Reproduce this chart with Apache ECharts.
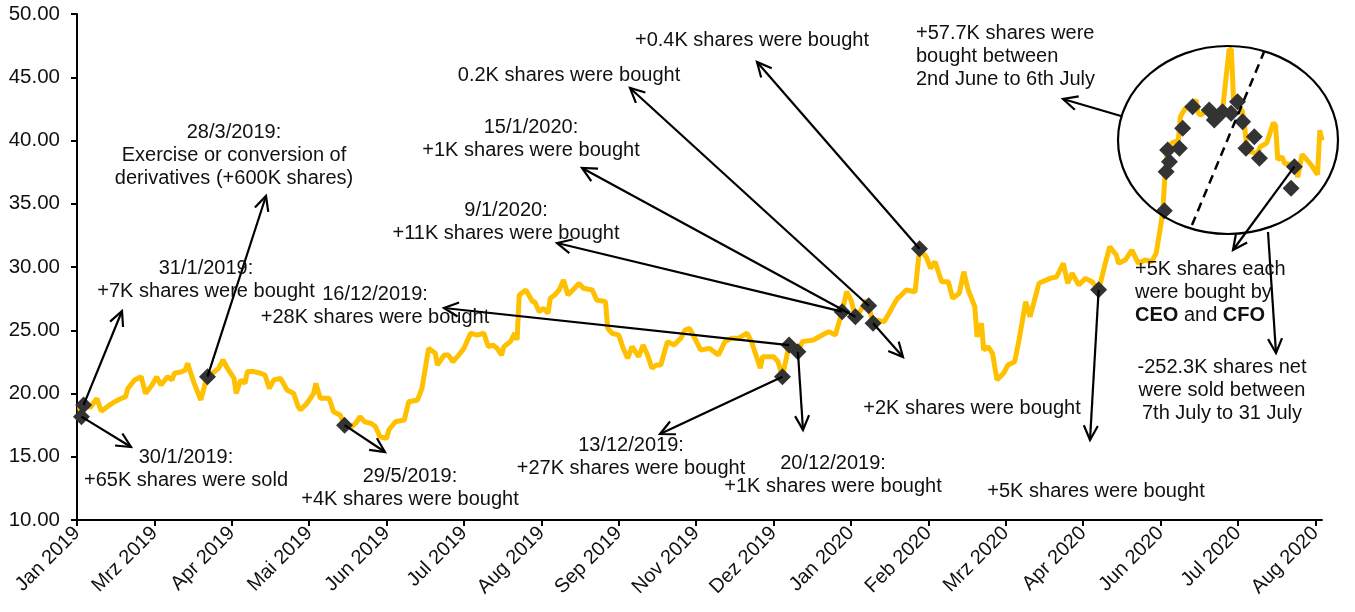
<!DOCTYPE html>
<html>
<head>
<meta charset="utf-8">
<script src="https://cdn.jsdelivr.net/npm/echarts@6/dist/echarts.min.js"></script>
<style>
  html, body { margin: 0; padding: 0; background: #fff; }
  #chart { width: 1355px; height: 612px; }
</style>
</head>
<body>
<div id="chart"></div>
<script>
// x values are days counted from 28 Jan 2019 (first axis tick); one tick every 35 days
var tickDays = [0, 35, 70, 105, 140, 175, 210, 245, 280, 315, 350, 385, 420, 455, 490, 525, 560];
var tickLabels = ['Jan 2019', 'Mrz 2019', 'Apr 2019', 'Mai 2019', 'Jun 2019', 'Jul 2019', 'Aug 2019', 'Sep 2019',
  'Nov 2019', 'Dez 2019', 'Jan 2020', 'Feb 2020', 'Mrz 2020', 'Apr 2020', 'Jun 2020', 'Jul 2020', 'Aug 2020'];

var priceDays = [1, 2, 3, 6, 9, 11, 14, 17, 20, 22, 23, 26, 29, 31, 34, 36, 38, 41, 43, 44, 47, 49, 50, 53, 56, 58, 59,
  62, 64, 66, 68, 71, 72, 74, 76, 77, 80, 83, 85, 87, 89, 92, 95, 98, 100, 101, 104, 107, 108, 110, 114, 116, 119,
  121, 124, 126, 128, 130, 133, 135, 137, 140, 141, 144, 148, 150, 154, 156, 159, 162, 163, 166, 168, 170, 172, 175,
  178, 181, 184, 186, 188, 190, 192, 193, 196, 198, 199, 200, 203, 206, 207, 209, 211, 213, 214, 216, 218, 220, 222,
  225, 227, 229, 233, 235, 239, 240, 242, 245, 247, 249, 251, 254, 256, 258, 260, 262, 264, 267, 270, 273, 275, 277,
  279, 282, 286, 290, 293, 296, 299, 303, 305, 309, 310, 315, 317, 319, 322, 326, 328, 333, 337, 340, 343, 344, 346,
  348, 350, 352, 354, 357, 358, 360, 361, 365, 368, 371, 372, 375, 379, 381, 384, 386, 388, 391, 394, 396, 399, 401,
  403, 406, 407, 409, 410, 412, 414, 416, 419, 421, 424, 426, 429, 431, 435, 440, 443, 446, 448, 450, 453, 456, 459,
  462, 465, 467, 470, 471, 474, 477, 480, 483, 486, 488, 490, 491, 492, 493, 495, 498, 499, 501, 504, 506, 507, 508,
  512, 515, 518, 520, 521, 522, 523, 525, 527, 528, 529, 530, 534, 535, 538, 541, 542, 543, 545, 546, 549, 551, 552,
  554, 555, 558, 561, 562, 563];
var prices = [19.0, 18.2, 19.1, 18.9, 19.6, 18.6, 19.0, 19.35, 19.6, 19.75, 20.4, 21.07, 21.33, 20.0, 20.7, 21.3, 20.67,
  21.33, 21.07, 21.6, 21.7, 21.86, 22.39, 20.8, 19.49, 20.8, 21.33,
  21.7, 21.99, 22.65, 22.0, 21.2, 20.0, 21.07, 20.8, 21.73, 21.73, 21.6, 21.46, 20.4, 21.07, 21.2, 20.28, 20.0, 18.96,
  18.7, 19.22, 20.0, 20.8, 19.62, 19.62, 18.56, 18.3,
  17.5, 17.37, 17.64, 18.17, 17.77, 17.64, 17.37, 16.58, 16.46, 17.11, 17.77, 17.9, 19.35, 19.49, 20.4, 23.57, 23.18,
  22.25, 23.04, 23.04, 22.51, 22.91, 23.57,
  24.76, 24.62, 24.76, 23.7, 23.83, 23.57, 23.04, 23.7, 24.1, 24.76, 24.23, 27.79, 28.18, 27.26, 27.26, 26.47, 26.73,
  26.34, 27.52, 27.79, 28.18, 28.97, 27.79,
  28.32, 28.71, 28.32, 28.18, 27.39, 27.26, 25.15, 24.76, 24.62, 23.57, 22.78, 23.7, 22.91, 23.83, 23.04, 22.0, 22.25,
  22.25, 24.1, 23.83, 24.36, 25.02, 25.15,
  24.49, 23.44, 23.57, 23.04, 24.1, 24.36, 24.36, 24.76, 24.1, 22.0, 22.91, 22.91, 22.51, 21.33, 23.83, 23.3, 24.1,
  24.23, 24.62, 24.89, 24.62, 25.28, 26.47,
  28.05, 27.39, 26.07, 26.47, 27.39, 26.94, 25.55, 25.81, 25.68, 26.6, 27.52, 27.65, 28.18, 28.05, 31.4, 30.81, 29.9,
  30.42, 28.84, 28.84, 27.52, 27.92, 29.63,
  28.18, 26.86, 24.49, 25.55, 23.44, 23.7, 23.18, 21.07, 21.6, 22.25, 22.51, 24.23, 27.26, 26.07, 28.71, 29.1, 29.23,
  30.29, 28.71, 29.5, 28.58, 29.1, 28.84,
  28.18, 30.29, 31.6, 30.95, 30.29, 30.55, 31.34, 30.29, 30.55, 30.42, 31.08, 33.2, 34.4, 37.3, 39.1, 39.8, 40.0, 41.9,
  42.5, 42.8, 43.2, 42.2, 42.0,
  42.5, 41.9, 42.4, 45.6, 47.2, 47.2, 43.2, 42.7, 42.3, 41.1, 39.5, 39.1, 39.0, 39.5, 39.8, 41.4, 41.2, 38.5, 38.7,
  38.2, 38.1, 38.1, 37.1,
  38.9, 38.7, 38.1, 37.3, 40.8, 40.0];

// insider trades (diamonds)
var tradeDays = [2, 3, 59, 121, 319, 322, 326, 346, 352, 358, 360, 381, 462,
  491.7, 492.5, 494, 493.2, 498.5, 500, 504.5, 512, 514.3, 518, 521.9, 524.8, 527.1, 532.4, 528.6, 534.7, 550.5, 549];
var tradePrices = [18.17, 19.1, 21.33, 17.5, 21.33, 23.83, 23.3, 26.47, 26.07, 26.94, 25.55, 31.45, 28.2,
  34.45, 37.53, 38.32, 39.25, 39.38, 40.96, 42.67, 42.41, 41.62, 42.28, 42.15, 43.07, 41.49, 40.3, 39.38, 38.6, 37.93, 36.22];

var FONT = '"Liberation Sans", Arial, sans-serif';

var chart = echarts.init(document.getElementById('chart'));
chart.setOption({
  animation: false,
  backgroundColor: '#fff',
  grid: { left: 77, right: 33, top: 14, bottom: 92 },
  xAxis: {
    type: 'value', min: 0, max: 563,
    splitLine: { show: false },
    axisLine: { lineStyle: { color: '#000', width: 2 } },
    axisTick: { show: true, length: 6, lineStyle: { color: '#000', width: 2 }, customValues: tickDays },
    axisLabel: {
      customValues: tickDays, rotate: 45, color: '#111', fontSize: 20, fontFamily: FONT, margin: 10,
      formatter: function(v) { var i = tickDays.indexOf(Math.round(v)); return i >= 0 ? tickLabels[i] : ''; }
    }
  },
  yAxis: {
    type: 'value', min: 10, max: 50, interval: 5,
    splitLine: { show: false },
    axisLine: { show: true, lineStyle: { color: '#000', width: 2 } },
    axisTick: { show: true, length: 6, lineStyle: { color: '#000', width: 2 } },
    axisLabel: { color: '#111', fontSize: 20.5, fontFamily: FONT, margin: 17, formatter: function(v) { return v.toFixed(2); } }
  },
  series: [
    {
      type: 'line', showSymbol: false, z: 2,
      data: priceDays.map(function(d, i) { return [d, prices[i]]; }),
      lineStyle: { color: '#FFC000', width: 5 }
    },
    {
      type: 'scatter', symbol: 'diamond', symbolSize: 17, z: 5,
      data: tradeDays.map(function(d, i) { return [d, tradePrices[i]]; }),
      itemStyle: { color: '#333333', opacity: 1 }
    }
  ]
});

// annotations
function px(i) { return chart.convertToPixel({ gridIndex: 0 }, [tradeDays[i], tradePrices[i]]); }

function arrow(p0, p1) {
  var dx = p1[0] - p0[0], dy = p1[1] - p0[1];
  var len = Math.sqrt(dx * dx + dy * dy);
  var ux = dx / len, uy = dy / len, L = 16, a = 26 * Math.PI / 180;
  var c = Math.cos(a), s = Math.sin(a);
  var w1 = [p1[0] - L * (ux * c - uy * s), p1[1] - L * (uy * c + ux * s)];
  var w2 = [p1[0] - L * (ux * c + uy * s), p1[1] - L * (uy * c - ux * s)];
  var st = { stroke: '#000', lineWidth: 2.2, fill: null };
  return [
    { type: 'polyline', z: 100, shape: { points: [p0, p1] }, style: st },
    { type: 'polyline', z: 100, shape: { points: [w1, p1, w2] }, style: st }
  ];
}

function label(lines, x, y, align) {
  return {
    type: 'text', z: 101,
    style: {
      text: lines.join('\n'), x: x, y: y - 11.7, align: align || 'center', verticalAlign: 'top',
      fontSize: 20, fontFamily: FONT, lineHeight: 23.4, fill: '#111',
      rich: { b: { fontWeight: 'bold', fontSize: 20, fontFamily: FONT, lineHeight: 23.4, fill: '#111' } }
    }
  };
}

var g = [];
var arrows = [
  [px(0), [131, 447]],
  [px(1), [122, 311]],
  [px(2), [266, 196]],
  [px(3), [385, 452]],
  [px(4), [660, 434]],
  [px(5), [444, 308]],
  [px(6), [803, 430]],
  [px(7), [557, 243]],
  [px(8), [582, 168]],
  [px(9), [630, 88]],
  [px(11), [757, 62]],
  [px(10), [903, 357]],
  [px(12), [1090, 440]],
  [px(29), [1233, 250]],
  [[1121, 116], [1063, 99]],
  [[1268, 232], [1276, 353]]
];
arrows.forEach(function(a) { g = g.concat(arrow(a[0], a[1])); });

g.push({ type: 'ellipse', z: 99, shape: { cx: 1228, cy: 140, rx: 110, ry: 94 }, style: { stroke: '#000', lineWidth: 2.2, fill: null } });
g.push({ type: 'line', z: 99, shape: { x1: 1192, y1: 225, x2: 1264, y2: 52 }, style: { stroke: '#000', lineWidth: 2.5, lineDash: [9, 6] } });

g.push(label(['31/1/2019:', '+7K shares were bought'], 206, 268));
g.push(label(['28/3/2019:', 'Exercise or conversion of', 'derivatives (+600K shares)'], 234, 132));
g.push(label(['30/1/2019:', '+65K shares were sold'], 186, 457));
g.push(label(['29/5/2019:', '+4K shares were bought'], 410, 476));
g.push(label(['16/12/2019:', '+28K shares were bought'], 375, 294));
g.push(label(['9/1/2020:', '+11K shares were bought'], 506, 210));
g.push(label(['15/1/2020:', '+1K shares were bought'], 531, 127));
g.push(label(['0.2K shares were bought'], 569, 75));
g.push(label(['+0.4K shares were bought'], 752, 40));
g.push(label(['+57.7K shares were', 'bought between', '2nd June to 6th July'], 916, 33, 'left'));
g.push(label(['13/12/2019:', '+27K shares were bought'], 631, 445));
g.push(label(['20/12/2019:', '+1K shares were bought'], 833, 463));
g.push(label(['+2K shares were bought'], 972, 408));
g.push(label(['+5K shares were bought'], 1096, 491));
g.push(label(['+5K shares each', 'were bought by', '{b|CEO} and {b|CFO}'], 1135, 269, 'left'));
g.push(label(['-252.3K shares net', 'were sold between', '7th July to 31 July'], 1222, 367));

chart.setOption({ graphic: g });
</script>
</body>
</html>
